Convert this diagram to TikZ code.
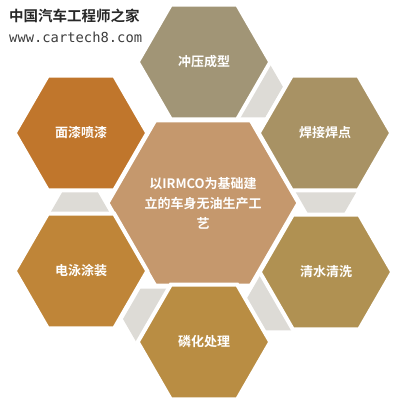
\documentclass[tikz,border=0pt]{standalone}
\usepackage{fontspec}
\newfontfamily\cjk{Noto Sans CJK SC}[BoldFont={Noto Sans CJK SC Bold}]
\newfontfamily\monof{DejaVu Sans Mono}
\usetikzlibrary{shapes.geometric}
\definecolor{cCenter}{RGB}{197,152,109}
\definecolor{cTop}{RGB}{161,149,118}
\definecolor{cUR}{RGB}{168,146,100}
\definecolor{cLR}{RGB}{176,145,82}
\definecolor{cBot}{RGB}{185,141,67}
\definecolor{cLL}{RGB}{191,133,56}
\definecolor{cUL}{RGB}{192,118,44}
\definecolor{cGray}{RGB}{221,219,214}
\definecolor{cMark}{RGB}{40,40,40}
\begin{document}
\begin{tikzpicture}[x=1pt,y=-1pt,
  hexbox/.style={regular polygon, regular polygon sides=6, draw=white, line width=4pt,
    inner sep=0pt, text=white, font=\cjk\bfseries\fontsize{13}{20}\selectfont, align=center},
  outerhex/.style={hexbox, minimum size=132.6pt},
  centerhex/.style={hexbox, minimum size=185.6pt},
  grayhex/.style={regular polygon, regular polygon sides=6, fill=cGray, draw=none,
    inner sep=0pt, minimum size=70pt}]
\useasboundingbox (0,0) rectangle (401,403);
% gray connector pieces (partly hidden behind the hexagons)
\node[grayhex] (g1) at (248,87) {};
\node[grayhex] (g2) at (326,184) {};
\node[grayhex] (g3) at (281,300) {};
\node[grayhex] (g4) at (158,319) {};
\node[grayhex] (g5) at (80,222) {};
% hexagons
\node[centerhex, fill=cCenter] (center) at (203,203) {以IRMCO为基础建\\立的车身无油生产工\\艺};
\node[outerhex, fill=cTop] (h1) at (204,62) {冲压成型};
\node[outerhex, fill=cUR] (h2) at (325,133) {焊接焊点};
\node[outerhex, fill=cLR] (h3) at (326,272) {清水清洗};
\node[outerhex, fill=cBot] (h4) at (204,342) {磷化处理};
\node[outerhex, fill=cLL] (h5) at (81,271) {电泳涂装};
\node[outerhex, fill=cUL] (h6) at (81,133) {面漆喷漆};
% watermark
\node[anchor=west, inner sep=0pt, text=cMark, font=\cjk\bfseries\fontsize{14.5}{16}\selectfont] (wm1) at (9,16) {中国汽车工程师之家};
\node[anchor=west, inner sep=0pt, text=cMark!90, font=\monof\fontsize{13.8}{16}\selectfont] (wm2) at (9,37) {www.cartech8.com};
\end{tikzpicture}
\end{document}
